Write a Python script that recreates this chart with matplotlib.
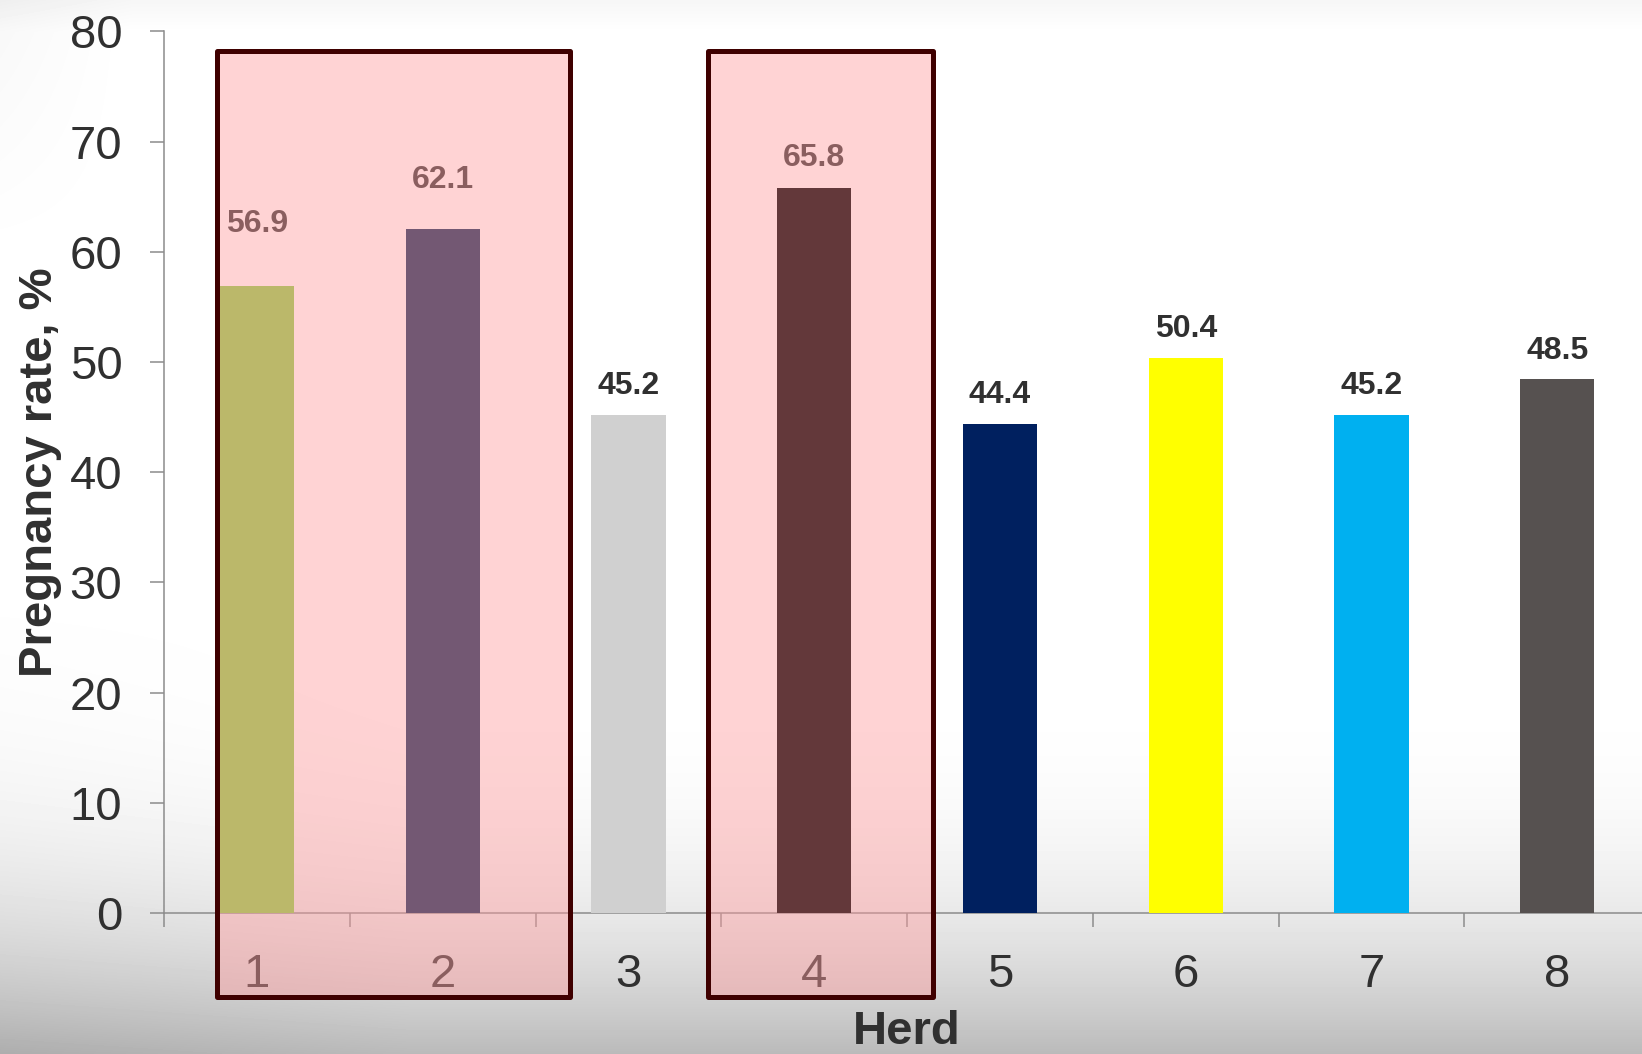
import numpy as np
import matplotlib
matplotlib.use("Agg")
import matplotlib.pyplot as plt
from matplotlib.patches import Rectangle

herds = ["1", "2", "3", "4", "5", "6", "7", "8"]
pregnancy_rate = [56.9, 62.1, 45.2, 65.8, 44.4, 50.4, 45.2, 48.5]
bar_colors = ["#BBB86A", "#735873", "#D0D0D0", "#63383A",
              "#00205F", "#FFFF00", "#00B0F0", "#565150"]

# shaded boxes picked out over herds 1-2 and herd 4 (x span in category units)
highlight_spans = [(-0.216, 1.686), (2.427, 3.639)]
highlight_y = (-7.6, 78.25)

# how far each value label sits above its bar, in pixels
label_lift = [62, 49, 29, 30, 29, 29, 29, 28]

TEXT = "#303030"
AXIS_GREY = "#8C8C8C"

plt.rcParams["font.family"] = ["Liberation Sans", "DejaVu Sans"]

fig = plt.figure(figsize=(16.42, 10.54), dpi=100)

# slide background: white fading to grey towards the bottom
bg = fig.add_axes([0, 0, 1, 1], zorder=-10)
H, W = 1054, 1642
yy = np.linspace(0, 1, H)[:, None]
xx = np.linspace(0, 1, W)[None, :]
g = np.clip((yy - 0.62) / 0.38, 0, 1)
shade = 1 - 0.27 * g ** 2.6
shade = shade - 0.05 * np.clip((yy - 0.55) / 0.45, 0, 1) * np.clip(1 - xx / 0.25, 0, 1)
shade = shade - 0.035 * np.clip(1 - yy / 0.03, 0, 1)
shade = shade - 0.03 * np.clip(1 - yy / 0.25, 0, 1) * np.clip(1 - xx / 0.08, 0, 1)
bg.imshow(shade, cmap="gray", vmin=0, vmax=1, aspect="auto", interpolation="bilinear")
bg.axis("off")

ax = fig.add_axes([0.0999, 0.1338, 0.905, 0.8364])
ax.set_facecolor("none")

x = np.arange(len(herds))
ax.bar(x, pregnancy_rate, width=0.4, color=bar_colors, zorder=4)

for xi, val, lift in zip(x, pregnancy_rate, label_lift):
    ax.annotate(f"{val:.1f}", (xi, val), xytext=(0, lift), textcoords="offset pixels",
                ha="center", va="center", fontsize=23, fontweight="bold",
                color=TEXT, zorder=2.8)

# translucent pink boxes behind the bars, dark outline drawn over them
y0, y1 = highlight_y
for x0, x1 in highlight_spans:
    fill = Rectangle((x0, y0), x1 - x0, y1 - y0, facecolor=(1.0, 0.608, 0.616),
                     alpha=0.44, edgecolor="none", clip_on=False, zorder=3)
    frame = Rectangle((x0, y0), x1 - x0, y1 - y0, facecolor="none",
                      edgecolor="#3F0000", linewidth=3.6, joinstyle="round",
                      clip_on=False, zorder=5)
    ax.add_patch(fill)
    ax.add_patch(frame)

ax.set_xlim(-0.5, 7.5)
ax.set_ylim(0, 80)
ax.set_yticks(np.arange(0, 81, 10))
ax.set_xticks(x)
ax.set_xticklabels(herds)
ax.set_xticks(np.arange(-0.5, 7.6, 1), minor=True)

ax.tick_params(axis="y", labelsize=34, labelcolor=TEXT, color=AXIS_GREY,
               length=10, width=1.1, pad=20)
ax.tick_params(axis="x", which="major", labelsize=34, labelcolor=TEXT,
               length=0, pad=29)
ax.tick_params(axis="x", which="minor", color=AXIS_GREY, length=10, width=1.1)

for side in ["top", "right"]:
    ax.spines[side].set_visible(False)
for side in ["left", "bottom"]:
    ax.spines[side].set_color(AXIS_GREY)
    ax.spines[side].set_linewidth(1.1)

ax.set_ylabel("Pregnancy rate, %", fontsize=34, fontweight="bold", color=TEXT)
ax.yaxis.set_label_coords(-0.0686, 0.5)
ax.set_xlabel("Herd", fontsize=34, fontweight="bold", color=TEXT)
ax.xaxis.set_label_coords(0.5, -0.11)

fig.savefig("out.png", dpi=100)
